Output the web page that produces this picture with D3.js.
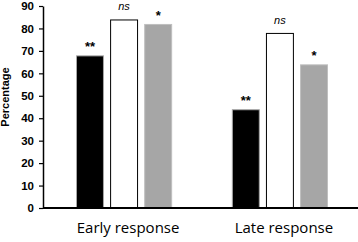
<!DOCTYPE html>
<html>
<head>
<meta charset="utf-8">
<script src="https://cdn.jsdelivr.net/npm/d3@7"></script>
<style>
  body { margin: 0; background: #fff; }
  svg { display: block; }
</style>
</head>
<body>
<svg id="chart" width="358" height="242"></svg>
<script>
let width = 358;
let height = 242;

// data
const groups = ["Early response", "Late response"];
const series = ["black", "white", "gray"];
const earlyValues = [68, 84, 82];
const lateValues = [44, 78, 64];
const marks = ["**", "ns", "*"];
const yTicks = [0, 10, 20, 30, 40, 50, 60, 70, 80, 90];

const fills = { black: "#000000", white: "#ffffff", gray: "#a6a6a6" };
const strokes = { black: "#a6a6a6", white: "#000000", gray: "#bfbfbf" };

let margin = { top: 6, right: 0, bottom: 34, left: 43 };

let svg = d3.select("#chart");

// groups of bars: first starts at ~76, second ends at ~328
let x0 = d3.scaleBand()
  .domain(groups)
  .range([76, 328])
  .paddingInner(0.383)
  .paddingOuter(0);

let x1 = d3.scaleBand()
  .domain(series)
  .range([0, x0.bandwidth()])
  .paddingInner(0.18)
  .paddingOuter(0);

let y = d3.scaleLinear()
  .domain([0, 90])
  .range([height - margin.bottom, margin.top]);

let rows = groups.map((g, i) => ({ group: g, values: i == 0 ? earlyValues : lateValues }));

// bars
let g = svg.selectAll("g.grp")
  .data(rows)
  .enter()
  .append("g")
  .attr("class", "grp")
  .attr("transform", d => `translate(${x0(d.group)},0)`);

g.selectAll("rect")
  .data(d => d.values.map((v, i) => ({ key: series[i], value: v })))
  .enter()
  .append("rect")
  .attr("x", d => x1(d.key) + 0.5)
  .attr("y", d => y(d.value) + 0.5)
  .attr("width", x1.bandwidth() - 1)
  .attr("height", d => y(0) - y(d.value) - 0.5)
  .attr("fill", d => fills[d.key])
  .attr("stroke", d => strokes[d.key])
  .attr("stroke-width", 1);

// significance marks
g.selectAll("text.mark")
  .data(d => d.values.map((v, i) => ({ key: series[i], value: v, mark: marks[i] })))
  .enter()
  .append("text")
  .attr("class", "mark")
  .attr("x", d => x1(d.key) + x1.bandwidth() / 2)
  .attr("y", d => y(d.value) - (d.mark == "ns" ? 9 : 4))
  .attr("text-anchor", "middle")
  .attr("font-family", "Liberation Sans, Arial, sans-serif")
  .attr("font-size", d => d.mark == "ns" ? 11 : 13)
  .attr("font-style", d => d.mark == "ns" ? "italic" : "normal")
  .attr("font-weight", d => d.mark == "ns" ? "normal" : "bold")
  .text(d => d.mark);

// y axis
let yAxis = svg.append("g")
  .attr("transform", `translate(${margin.left},0)`)
  .call(d3.axisLeft(y).tickValues(yTicks).tickSize(4).tickPadding(5).tickSizeOuter(0));
yAxis.select(".domain").attr("stroke", "#000").attr("stroke-width", 1.5);
yAxis.selectAll(".tick line").attr("stroke", "#000").attr("stroke-width", 1.2);
yAxis.selectAll("text")
  .attr("font-family", "Liberation Sans, Arial, sans-serif")
  .attr("font-size", 11.5)
  .attr("font-weight", "bold")
  .attr("fill", "#000");

// x axis line
svg.append("line")
  .attr("x1", margin.left)
  .attr("x2", width)
  .attr("y1", y(0))
  .attr("y2", y(0))
  .attr("stroke", "#000")
  .attr("stroke-width", 2);

// category labels
svg.selectAll("text.cat")
  .data(groups)
  .enter()
  .append("text")
  .attr("class", "cat")
  .attr("x", d => x0(d) + x0.bandwidth() / 2 + 4)
  .attr("y", 233)
  .attr("text-anchor", "middle")
  .attr("font-family", "Open Sans, sans-serif")
  .attr("font-size", 15)
  .attr("fill", "#000")
  .text(d => d);

// y title
svg.append("text")
  .attr("transform", `translate(9,${(y(0) + y(90)) / 2 - 10}) rotate(-90)`)
  .attr("text-anchor", "middle")
  .attr("font-family", "Liberation Sans, Arial, sans-serif")
  .attr("font-size", 11)
  .attr("font-weight", "bold")
  .text("Percentage");
</script>
</body>
</html>
